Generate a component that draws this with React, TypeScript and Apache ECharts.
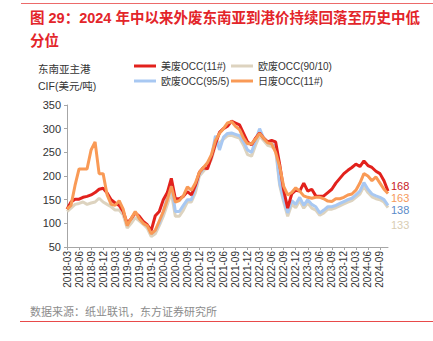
import React, { useEffect, useRef } from "react";
import * as echarts from "echarts";

const buildMonths = (): string[] => {
  const out: string[] = [];
  for (let y = 2018; y <= 2024; y++) {
    for (let m = 1; m <= 12; m++) {
      if (y === 2018 && m < 3) continue;
      if (y === 2024 && m > 11) continue;
      out.push(`${y}-${String(m).padStart(2, "0")}`);
    }
  }
  return out;
};
const months = buildMonths();

const usOcc11 = [
  130, 145, 151, 151, 155, 157, 160, 165, 172, 174,
  164, 150, 143, 138, 125, 100, 110, 122, 115, 104,
  97, 85, 116, 125, 150, 165, 195, 152, 152, 157,
  167, 160, 180, 208, 218, 215, 240, 268, 292, 300,
  305, 316, 312, 308, 290, 272, 266, 280, 291, 280,
  272, 275, 272, 225, 170, 132, 162, 170, 168, 185,
  168, 172, 158, 157, 158, 165, 172, 185, 195, 205,
  212, 218, 225, 220, 232, 222, 218, 210, 205, 190,
  168,
];

const euOcc9010 = [
  125, 132, 140, 142, 145, 140, 143, 145, 153, 145,
  140, 135, 128, 128, 118, 90, 100, 112, 105, 98,
  90, 72, 78, 95, 115, 140, 165, 115, 115, 128,
  145, 145, 165, 200, 210, 220, 235, 265, 270, 278,
  285, 286, 283, 280, 265, 245, 242, 265, 285, 275,
  265, 262, 255, 180, 145, 115, 140, 133, 148, 132,
  143, 132, 128, 117, 122, 130, 130, 133, 137, 141,
  145, 148, 155, 162, 178, 165, 156, 152, 150, 145,
  133,
];

const euOcc955 = [
  null, null, null, null, null, null, null, null, null, null,
  null, null, null, null, null, null, null, null, null, null,
  null, 78, 85, 100, 125, 155, 185, 125, 125, 138,
  150, 150, 175, 205, 215, 225, 240, 285, 255, 282,
  290, 291, 288, 285, 272, 255, 250, 275, 300, 280,
  272, 268, 262, 185, 150, 122, 148, 140, 155, 138,
  150, 140, 135, 122, 128, 135, 135, 138, 142, 146,
  150, 153, 160, 168, 186, 172, 162, 158, 155, 150,
  138,
];

const jpOcc11 = [
  130, 138, 180, 215, 215, 215, 255, 272, 205, 205,
  160, 140, 138, 148, 130, 95, 110, 125, 110, 100,
  95, 78, 85, 105, 125, 150, 178, 145, 148, 158,
  177, 170, 185, 208, 218, 228, 245, 275, 290, 300,
  312, 315, 305, 298, 280, 268, 268, 278, 290, 280,
  270, 268, 250, 220, 178, 160, 165, 175, 168, 158,
  155, 153, 155, 155, 152, 147, 146, 152, 152, 155,
  160, 162, 170, 185, 205, 200, 190, 198, 185, 172,
  163,
];

const names = ["美废OCC(11#)", "欧废OCC(90/10)", "欧废OCC(95/5)", "日废OCC(11#)"];
const yTicks = { min: 50, max: 350, interval: 50 };

const FONT = '"Liberation Sans", Arial, "Noto Sans CJK SC", sans-serif';

export default function App() {
  const ref = useRef<HTMLDivElement>(null);
  useEffect(() => {
    if (!ref.current) return;
    const chart = echarts.init(ref.current, undefined, { renderer: "svg" });
    const mk = (name: string, data: any[], color: string, labelColor: string, offset: number[]) => ({
      name,
      type: "line",
      data,
      symbol: "none",
      smooth: false,
      connectNulls: false,
      lineStyle: { color, width: 3 },
      itemStyle: { color },
      endLabel: {
        show: true,
        formatter: (p: any) => String(p.value),
        color: labelColor,
        fontSize: 11,
        fontFamily: FONT,
        distance: 3,
        offset,
      },
    });
    const legendBase = {
      orient: "vertical",
      top: 61,
      padding: 0,
      itemWidth: 22,
      itemHeight: 3,
      itemGap: 5,
      icon: "rect",
      textStyle: { fontSize: 10, color: "#333", fontFamily: FONT },
    };
    chart.setOption({
      animation: false,
      textStyle: { fontFamily: FONT },
      grid: { left: 67, right: 45, top: 105, bottom: 94, containLabel: false },
      legend: [
        { ...legendBase, data: [names[0], names[2]], left: 134 },
        { ...legendBase, data: [names[1], names[3]], left: 231 },
      ],
      xAxis: {
        type: "category",
        data: months,
        boundaryGap: false,
        axisLine: { lineStyle: { color: "#a6a6a6" } },
        axisTick: { show: true, interval: 2, length: 3, lineStyle: { color: "#a6a6a6" } },
        axisLabel: { rotate: 90, interval: 2, fontSize: 10, color: "#333", margin: 4 },
        splitLine: { show: false },
      },
      yAxis: {
        type: "value",
        min: yTicks.min,
        max: yTicks.max,
        interval: yTicks.interval,
        axisLine: { show: true, lineStyle: { color: "#a6a6a6" } },
        axisTick: { show: true, length: 3, lineStyle: { color: "#a6a6a6" } },
        axisLabel: { fontSize: 11, color: "#333", margin: 6 },
        splitLine: { show: false },
      },
      series: [
        mk(names[1], euOcc9010, "#ddd3bf", "#d9cdb3", [0, 17]),
        mk(names[2], euOcc955, "#a8c8f2", "#5b8bc9", [0, 5]),
        mk(names[0], usOcc11, "#e2211c", "#c8201e", [0, -5]),
        mk(names[3], jpOcc11, "#f99a56", "#f59a5c", [0, 4]),
      ],
      graphic: [
        { type: "line", shape: { x1: 21, y1: 3.5, x2: 433, y2: 3.5 }, style: { stroke: "#ec6a6a", lineWidth: 1 } },
        {
          type: "text",
          left: 30,
          top: 6,
          style: {
            text: "图 29：2024 年中以来外废东南亚到港价持续回落至历史中低\n分位",
            fontSize: 14.5,
            fontWeight: "bold",
            fill: "#e3252a",
            lineHeight: 23,
            fontFamily: FONT,
          },
        },
        {
          type: "text",
          left: 38,
          top: 60,
          style: {
            text: "东南亚主港\nCIF(美元/吨)",
            fontSize: 10.5,
            fill: "#333",
            lineHeight: 17,
            fontFamily: FONT,
          },
        },
        {
          type: "text",
          left: 30,
          top: 306,
          style: {
            text: "数据来源：纸业联讯，东方证券研究所",
            fontSize: 11,
            fill: "#8c8c8c",
            fontFamily: FONT,
          },
        },
        { type: "line", shape: { x1: 20, y1: 321.5, x2: 433, y2: 321.5 }, style: { stroke: "#e84a4a", lineWidth: 1 } },
      ],
    });
    return () => chart.dispose();
  }, []);
  return (
    <div
      ref={ref}
      style={{ position: "fixed", left: 0, top: 0, width: 433, height: 341, background: "#fff" }}
    />
  );
}
